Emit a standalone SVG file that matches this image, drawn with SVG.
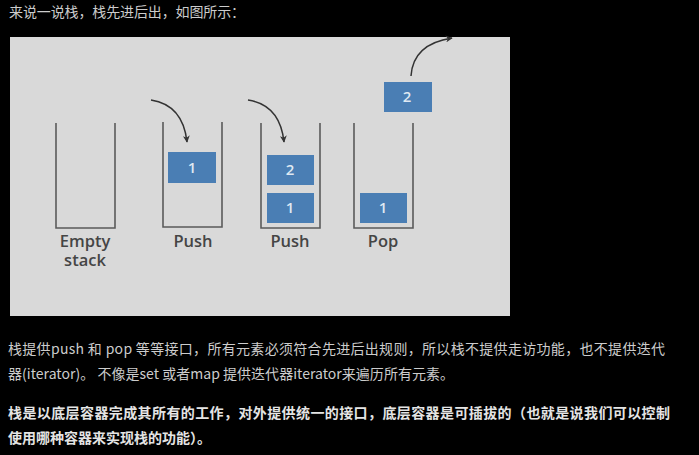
<svg xmlns="http://www.w3.org/2000/svg" width="699" height="455" viewBox="0 0 699 455">
<defs>
<marker id="ah" viewBox="0 0 10 10" refX="9" refY="5" markerWidth="7" markerHeight="7" orient="auto" markerUnits="userSpaceOnUse">
<path d="M0,0 L10,5 L0,10 L3,5 z" fill="#333"/>
</marker>
<style>
.txt{font-family:"Noto Sans CJK SC","Noto Sans",sans-serif;font-size:14px;fill:#cccccc}
.bold{font-weight:bold;fill:#e4e4e4}
.stk{fill:none;stroke:#5a5a5a;stroke-width:1.6}
.blk{fill:#4a7eb4}
.num{font-family:"Open Sans","Noto Sans",sans-serif;font-size:15px;font-weight:600;fill:#dfe8f2;text-anchor:middle}
.lbl{font-family:"Open Sans","Noto Sans",sans-serif;font-size:16.5px;font-weight:600;fill:#454545;text-anchor:middle}
.arr{fill:none;stroke:#333;stroke-width:1.5}
</style>
</defs>
<rect x="0" y="0" width="699" height="455" fill="#000"/>
<text class="txt" x="9" y="17" textLength="236" lengthAdjust="spacing">来说一说栈，栈先进后出，如图所示：</text>
<rect x="10" y="37" width="500" height="279" fill="#d9d9d9"/>

<g id="stack-empty">
<path class="stk" d="M56,123 V228 H115 V123"/>
<text class="lbl" x="85" y="247">Empty<tspan x="85" dy="19">stack</tspan></text>
</g>
<g id="stack-push1">
<path class="stk" d="M163,122 V227 H222 V122"/>
<rect class="blk" x="168" y="152" width="48" height="31"/>
<text class="num" x="192" y="173">1</text>
<text class="lbl" x="193" y="247">Push</text>
</g>
<g id="stack-push2">
<path class="stk" d="M261,123 V228 H320 V123"/>
<rect class="blk" x="267" y="155" width="47" height="30"/>
<text class="num" x="290" y="175">2</text>
<rect class="blk" x="267" y="193" width="47" height="30"/>
<text class="num" x="290" y="213">1</text>
<text class="lbl" x="290" y="247">Push</text>
</g>
<g id="stack-pop">
<path class="stk" d="M354,123 V228 H413 V123"/>
<rect class="blk" x="360" y="193" width="47" height="30"/>
<text class="num" x="383" y="213">1</text>
<text class="lbl" x="383" y="247">Pop</text>
</g>
<g id="popped">
<rect class="blk" x="384" y="82" width="48" height="30"/>
<text class="num" x="407" y="102">2</text>
</g>

<g id="connectors">
<path class="arr" d="M151,100 Q183,105 187,142" marker-end="url(#ah)"/>
<path class="arr" d="M248,100 Q280,105 284,142" marker-end="url(#ah)"/>
<path class="arr" d="M411,76 Q413,44 452,38" marker-end="url(#ah)"/>
</g>

<text class="txt" x="8" y="354" textLength="657" lengthAdjust="spacing">栈提供push 和 pop 等等接口，所有元素必须符合先进后出规则，所以栈不提供走访功能，也不提供迭代</text>
<text class="txt" x="8" y="379" textLength="446" lengthAdjust="spacing">器(iterator)。 不像是set 或者map 提供迭代器iterator来遍历所有元素。</text>
<text class="txt bold" x="8" y="418" textLength="662" lengthAdjust="spacing">栈是以底层容器完成其所有的工作，对外提供统一的接口，底层容器是可插拔的（也就是说我们可以控制</text>
<text class="txt bold" x="8" y="443">使用哪种容器来实现栈的功能）。</text>
</svg>
